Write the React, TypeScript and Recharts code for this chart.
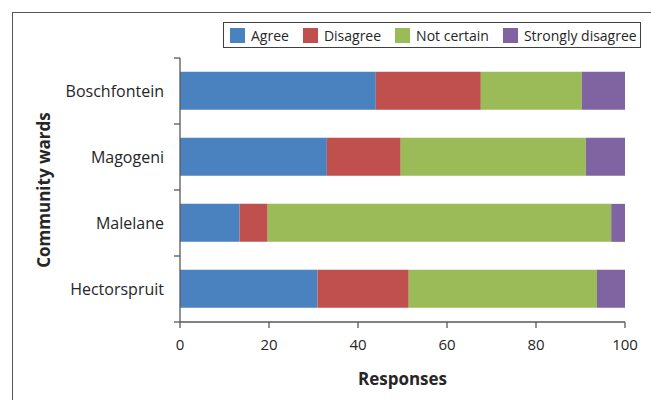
import { BarChart, Bar, XAxis, YAxis, Legend, Label } from 'recharts'

const wards = ['Boschfontein', 'Magogeni', 'Malelane', 'Hectorspruit']
const agree = [44.0, 33.0, 13.4, 30.9]
const disagree = [23.6, 16.6, 6.3, 20.5]
const notCertain = [22.7, 41.6, 77.2, 42.3]
const stronglyDisagree = [9.7, 8.8, 3.1, 6.3]
const responseTicks = [0, 20, 40, 60, 80, 100]

const series = [
    { key: 'agree', name: 'Agree', color: '#4a81bf' },
    { key: 'disagree', name: 'Disagree', color: '#c0504d' },
    { key: 'notCertain', name: 'Not certain', color: '#9bbb59' },
    { key: 'stronglyDisagree', name: 'Strongly disagree', color: '#8064a2' },
]

const data = wards.map((ward, i) => ({
    ward,
    agree: agree[i],
    disagree: disagree[i],
    notCertain: notCertain[i],
    stronglyDisagree: stronglyDisagree[i],
}))

const FONT = '"Open Sans", sans-serif'
const TEXT = '#262626'
const AXIS = '#595959'

const LegendBox = ({ payload }: any) => (
    <div
        style={{
            display: 'flex',
            alignItems: 'center',
            height: 26,
            width: 418,
            boxSizing: 'border-box',
            border: '1px solid #404040',
            padding: '0 6px',
            fontFamily: FONT,
            fontSize: 14,
            color: TEXT,
            background: '#fff',
            whiteSpace: 'nowrap',
        }}
    >
        {(payload || []).map((p: any, i: number) => (
            <div key={i} style={{ display: 'flex', alignItems: 'center', marginRight: 14, flexShrink: 0 }}>
                <span style={{ width: 15, height: 15, background: p.color, marginRight: 6, display: 'inline-block' }} />
                <span>{p.value}</span>
            </div>
        ))}
    </div>
)

// category tick: label plus Excel-style tick marks on the band edges
const WardTick = ({ x, y, payload }: any) => {
    const half = payload.offset || 0
    const ax = x + 16
    return (
        <g>
            <line x1={ax - 6} x2={ax} y1={y - half} y2={y - half} stroke={AXIS} strokeWidth={1.3} />
            {payload.index === wards.length - 1 && (
                <line x1={ax - 6} x2={ax} y1={y + half} y2={y + half} stroke={AXIS} strokeWidth={1.3} />
            )}
            <text x={x} y={y} dy="0.355em" textAnchor="end" fill={TEXT} fontSize={16}>
                {payload.value}
            </text>
        </g>
    )
}

const App = () => {
    return (
        <div style={{ position: 'absolute', left: 0, top: 0, width: 651, height: 400, background: '#fff', overflow: 'hidden' }}>
            <div
                style={{
                    position: 'absolute',
                    left: 12,
                    top: 12,
                    width: 700,
                    height: 500,
                    borderLeft: '1.5px solid #555',
                    borderTop: '1.5px solid #555',
                }}
            />
            <BarChart
                width={651}
                height={400}
                data={data}
                layout="vertical"
                barCategoryGap="21%"
                margin={{ top: 58, right: 26, bottom: 18, left: 0 }}
                style={{ position: 'absolute', left: 0, top: 0, fontFamily: FONT }}
            >
                <YAxis
                    yAxisId="wards"
                    type="category"
                    dataKey="ward"
                    width={180}
                    stroke={AXIS}
                    strokeWidth={1.3}
                    tickLine={false}
                    tickSize={6}
                    tickMargin={10}
                    tick={<WardTick />}
                >
                    <Label
                        content={({ viewBox }: any) => {
                            const x = viewBox.x + 50
                            const y = viewBox.y + viewBox.height / 2
                            return (
                                <text
                                    x={x}
                                    y={y}
                                    transform={`rotate(-90, ${x}, ${y})`}
                                    textAnchor="middle"
                                    fill={TEXT}
                                    fontSize={17}
                                    fontWeight="bold"
                                >
                                    Community wards
                                </text>
                            )
                        }}
                    />
                </YAxis>
                <XAxis
                    type="number"
                    domain={[0, 100]}
                    ticks={responseTicks}
                    height={60}
                    tickSize={6}
                    tickMargin={11}
                    stroke={AXIS}
                    strokeWidth={1.3}
                    tick={{ fill: TEXT, fontSize: 15 }}
                >
                    <Label
                        content={({ viewBox }: any) => (
                            <text
                                x={viewBox.x + viewBox.width / 2}
                                y={viewBox.y + 63}
                                textAnchor="middle"
                                fill={TEXT}
                                fontSize={17}
                                fontWeight="bold"
                            >
                                Responses
                            </text>
                        )}
                    />
                </XAxis>
                <Legend
                    layout="horizontal"
                    verticalAlign="middle"
                    align="center"
                    content={<LegendBox />}
                    wrapperStyle={{ top: 22, left: 223, width: 418, height: 26 }}
                />
                {series.map((s) => (
                    <Bar
                        key={s.key}
                        dataKey={s.key}
                        name={s.name}
                        stackId="a"
                        yAxisId="wards"
                        fill={s.color}
                        isAnimationActive={false}
                    />
                ))}
            </BarChart>
        </div>
    )
}

export default App
